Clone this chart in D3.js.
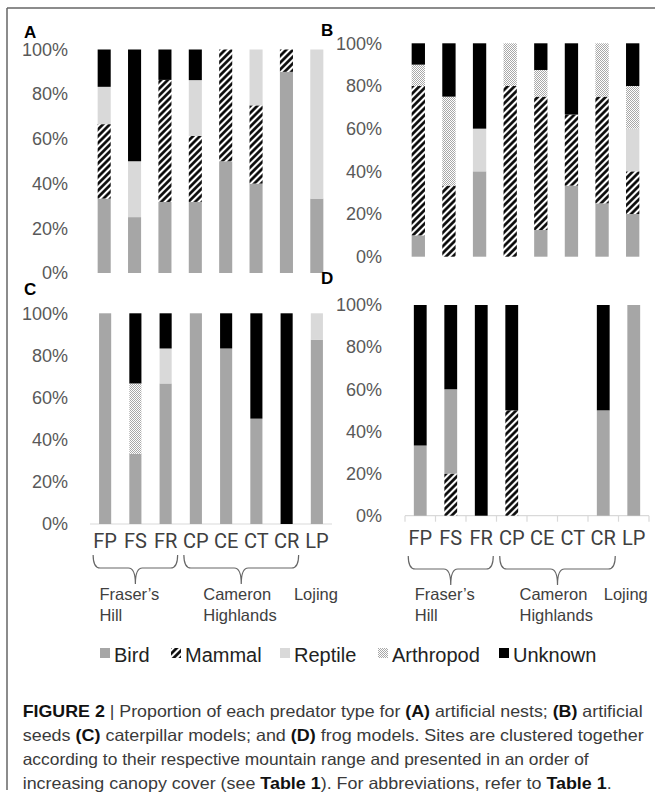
<!DOCTYPE html>
<html><head><meta charset="utf-8">
<script src="https://cdn.jsdelivr.net/npm/d3@7"></script>
<style>
html,body{margin:0;padding:0;background:#fff;}
svg{display:block;}
</style></head>
<body>
<script>
// ---------- DATA ----------
const sites = ["FP","FS","FR","CP","CE","CT","CR","LP"];
const types = ["Bird","Mammal","Reptile","Arthropod","Unknown"];
const yTicks = [0,20,40,60,80,100];
const groups = ["Fraser\u2019s|Hill","Cameron|Highlands","Lojing"];

// (A) artificial nests
const nestBird      = [33.3, 25.0, 31.8, 31.8, 50.0, 40.0, 90.0, 33.3];
const nestMammal    = [33.3,  0.0, 54.6, 29.5, 50.0, 35.0, 10.0,  0.0];
const nestReptile   = [16.7, 25.0,  0.0, 25.0,  0.0, 25.0,  0.0, 66.7];
const nestArthropod = [ 0.0,  0.0,  0.0,  0.0,  0.0,  0.0,  0.0,  0.0];
const nestUnknown   = [16.7, 50.0, 13.6, 13.7,  0.0,  0.0,  0.0,  0.0];

// (B) artificial seeds
const seedBird      = [10.0,  0.0, 40.0,  0.0, 12.5, 33.3, 25.0, 20.0];
const seedMammal    = [70.0, 33.3,  0.0, 80.0, 62.5, 33.3, 50.0, 20.0];
const seedReptile   = [ 0.0,  0.0, 20.0,  0.0,  0.0,  0.0,  0.0, 20.0];
const seedArthropod = [10.0, 41.7,  0.0, 20.0, 12.5,  0.0, 25.0, 20.0];
const seedUnknown   = [10.0, 25.0, 40.0,  0.0, 12.5, 33.4,  0.0, 20.0];

// (C) caterpillar models
const catBird       = [100.0, 33.3, 66.7, 100.0, 83.3, 50.0,   0.0, 87.5];
const catMammal     = [  0.0,  0.0,  0.0,   0.0,  0.0,  0.0,   0.0,  0.0];
const catReptile    = [  0.0,  0.0, 16.6,   0.0,  0.0,  0.0,   0.0, 12.5];
const catArthropod  = [  0.0, 33.4,  0.0,   0.0,  0.0,  0.0,   0.0,  0.0];
const catUnknown    = [  0.0, 33.3, 16.7,   0.0, 16.7, 50.0, 100.0,  0.0];

// (D) frog models
const frogBird      = [33.3, 40.0,   0.0,  0.0, 0, 0, 50.0, 100.0];
const frogMammal    = [ 0.0, 20.0,   0.0, 50.0, 0, 0,  0.0,   0.0];
const frogReptile   = [ 0.0,  0.0,   0.0,  0.0, 0, 0,  0.0,   0.0];
const frogArthropod = [ 0.0,  0.0,   0.0,  0.0, 0, 0,  0.0,   0.0];
const frogUnknown   = [66.7, 40.0, 100.0, 50.0, 0, 0, 50.0,   0.0];

const captionLines = [
  [["b","FIGURE 2"],["n"," | Proportion of each predator type for "],["b","(A)"],["n"," artificial nests; "],["b","(B)"],["n"," artificial"]],
  [["n","seeds "],["b","(C)"],["n"," caterpillar models; and "],["b","(D)"],["n"," frog models. Sites are clustered together"]],
  [["n","according to their respective mountain range and presented in an order of"]],
  [["n","increasing canopy cover (see "],["b","Table 1"],["n","). For abbreviations, refer to "],["b","Table 1"],["n","."]]
];

// ---------- LAYOUT / STYLE ----------
const W = 655, H = 804;
const fills = {Bird:"#a6a6a6", Mammal:"url(#hatch)", Reptile:"#d9d9d9", Arthropod:"url(#dots)", Unknown:"#000"};

const panels = [
  {id:"A", vals:[nestBird,nestMammal,nestReptile,nestArthropod,nestUnknown], order:["Bird","Mammal","Reptile","Arthropod","Unknown"],
   xr:[89,332], pi:0.57, yr:[273,49.5], axX:70, letter:[24,37.5], axisLine:false, ticks:false, xlab:false},
  {id:"B", vals:[seedBird,seedMammal,seedReptile,seedArthropod,seedUnknown], order:["Bird","Mammal","Reptile","Arthropod","Unknown"],
   xr:[403,648], pi:0.565, yr:[256.7,43.3], axX:384, letter:[321,36], axisLine:false, ticks:false, xlab:false},
  {id:"C", vals:[catBird,catMammal,catReptile,catArthropod,catUnknown], order:["Bird","Mammal","Reptile","Arthropod","Unknown"],
   xr:[90,332], pi:0.6, yr:[524,313.3], axX:70, letter:[24,295], axisLine:true, ticks:false, xlab:true, labY:548},
  {id:"D", vals:[frogBird,frogMammal,frogReptile,frogArthropod,frogUnknown], order:["Mammal","Bird","Reptile","Arthropod","Unknown"],
   xr:[405,649], pi:0.58, yr:[515.7,305], axX:384, letter:[321,284], axisLine:true, ticks:true, xlab:true, labY:545}
];

const svg = d3.select("body").append("svg").attr("width",W).attr("height",H);
const defs = svg.append("defs");
const hp = defs.append("pattern").attr("id","hatch").attr("patternUnits","userSpaceOnUse")
  .attr("width",4.8).attr("height",4.8).attr("patternTransform","rotate(45)");
hp.append("rect").attr("width",4.8).attr("height",4.8).attr("fill","#fff");
hp.append("line").attr("x1",2.4).attr("y1",-1).attr("x2",2.4).attr("y2",6).attr("stroke","#000").attr("stroke-width",2.6);
const dp = defs.append("pattern").attr("id","dots").attr("patternUnits","userSpaceOnUse").attr("width",2).attr("height",2);
dp.append("rect").attr("width",2).attr("height",2).attr("fill","#fff");
dp.append("rect").attr("x",0).attr("y",0).attr("width",1).attr("height",1).attr("fill","#a8a8a8");
dp.append("rect").attr("x",1).attr("y",1).attr("width",1).attr("height",1).attr("fill","#a8a8a8");

// frame
svg.append("line").attr("x1",7).attr("y1",8).attr("x2",W).attr("y2",8).attr("stroke","#666").attr("stroke-width",1.5);
svg.append("line").attr("x1",7).attr("y1",8).attr("x2",7).attr("y2",790).attr("stroke","#666").attr("stroke-width",1.5);

panels.forEach(p => {
  const g = svg.append("g");
  const x = d3.scaleBand().domain(sites).range(p.xr).paddingInner(p.pi).paddingOuter(p.pi/2);
  const y = d3.scaleLinear().domain([0,100]).range(p.yr);
  const rows = sites.map((s,i) => { const r = {site:s}; types.forEach((t,k)=> r[t]=p.vals[k][i]); return r; });
  const series = d3.stack().keys(p.order)(rows);

  if (p.axisLine) {
    g.append("line").attr("x1",p.xr[0]).attr("x2",p.xr[1]).attr("y1",y(0)).attr("y2",y(0))
      .attr("stroke","#d9d9d9").attr("stroke-width",1.2);
  }
  if (p.ticks) {
    const bounds = sites.map(s => x(s) - x.step()*x.paddingInner()/2).concat([p.xr[1]]);
    g.selectAll(".tk").data(bounds).join("line").attr("x1",d=>d).attr("x2",d=>d)
      .attr("y1",y(0)).attr("y2",y(0)+6).attr("stroke","#d9d9d9").attr("stroke-width",1.2);
  }

  series.forEach(sr => {
    g.selectAll(null).data(sr.filter(d => d[1]-d[0] > 0)).join("rect")
      .attr("x", d => x(d.data.site)).attr("width", x.bandwidth())
      .attr("y", d => y(d[1])).attr("height", d => y(d[0]) - y(d[1]))
      .attr("fill", fills[sr.key]);
  });

  const ax = g.append("g").attr("transform",`translate(${p.axX},0)`)
    .call(d3.axisLeft(y).tickValues(yTicks).tickSize(0).tickPadding(2).tickFormat(d => d + "%"));
  ax.select(".domain").remove();
  ax.selectAll("text").attr("font-family","'Liberation Sans', Arial, sans-serif").attr("font-size",18).attr("fill","#595959");

  g.append("text").attr("x",p.letter[0]).attr("y",p.letter[1]).text(p.id)
    .attr("font-family","'Liberation Sans', Arial, sans-serif").attr("font-weight","bold").attr("font-size",17).attr("fill","#000");

  if (p.xlab) {
    g.selectAll(".xl").data(sites).join("text")
      .attr("x", d => x(d) + x.bandwidth()/2).attr("y", p.labY).attr("text-anchor","middle")
      .attr("font-family","'Liberation Sans Narrow', 'Roboto', sans-serif").attr("font-size",20).attr("fill","#404040")
      .text(d => d);
    const c = s => x(s) + x.bandwidth()/2;
    const braceTop = p.id === "C" ? 555 : 556;
    const brace = (a,b) => {
      const x0 = c(a) - 12, x1 = c(b) + 12, xm = (c(a)+c(b))/2;
      const y0 = braceTop, ym = braceTop + 13, yc = braceTop + 29, r = 7;
      return `M${x0},${y0} Q${x0},${ym} ${x0+r},${ym} L${xm-r},${ym} Q${xm},${ym} ${xm},${yc} Q${xm},${ym} ${xm+r},${ym} L${x1-r},${ym} Q${x1},${ym} ${x1},${y0}`;
    };
    const bs = [["FP","FR"],["CP","CR"]];
    bs.forEach(([a,b]) => g.append("path").attr("d", brace(a,b)).attr("fill","none").attr("stroke","#666").attr("stroke-width",1.2));
    const gl = [ {t:groups[0], x:(c("FP")+c("FR"))/2 - 36}, {t:groups[1], x:(c("CP")+c("CR"))/2 - 38}, {t:groups[2], x:c("LP") - (p.id === "C" ? 23 : 30)} ];
    gl.forEach(o => {
      const t = g.append("text").attr("font-family","'Liberation Sans', Arial, sans-serif").attr("font-size",16.5).attr("fill","#404040");
      o.t.split("|").forEach((ln,i) => t.append("tspan").attr("x",o.x).attr("y",600 + i*21).text(ln));
    });
  }
});

// legend
const legX = [100, 171, 280, 378, 499];
const lg = svg.append("g");
types.forEach((t,i) => {
  lg.append("rect").attr("x",legX[i]).attr("y",648).attr("width",10).attr("height",10)
    .attr("fill", fills[t]);
  lg.append("text").attr("x",legX[i]+14).attr("y",662).text(t)
    .attr("font-family","'Liberation Sans', Arial, sans-serif").attr("font-size",20).attr("fill","#222");
});

// caption
const capLen = [620, 621, 566, 589];
captionLines.forEach((ln,i) => {
  const t = svg.append("text").attr("x",22.7).attr("y",717 + i*24)
    .attr("font-family","'Liberation Sans', Arial, sans-serif").attr("font-size",16.5).attr("fill","#3a3a3a")
    .attr("textLength",capLen[i]).attr("lengthAdjust","spacingAndGlyphs");
  ln.forEach(([k,s]) => {
    const ts = t.append("tspan").text(s);
    if (k === "b") ts.attr("font-weight","bold").attr("fill","#111");
  });
});
</script>
</body></html>
